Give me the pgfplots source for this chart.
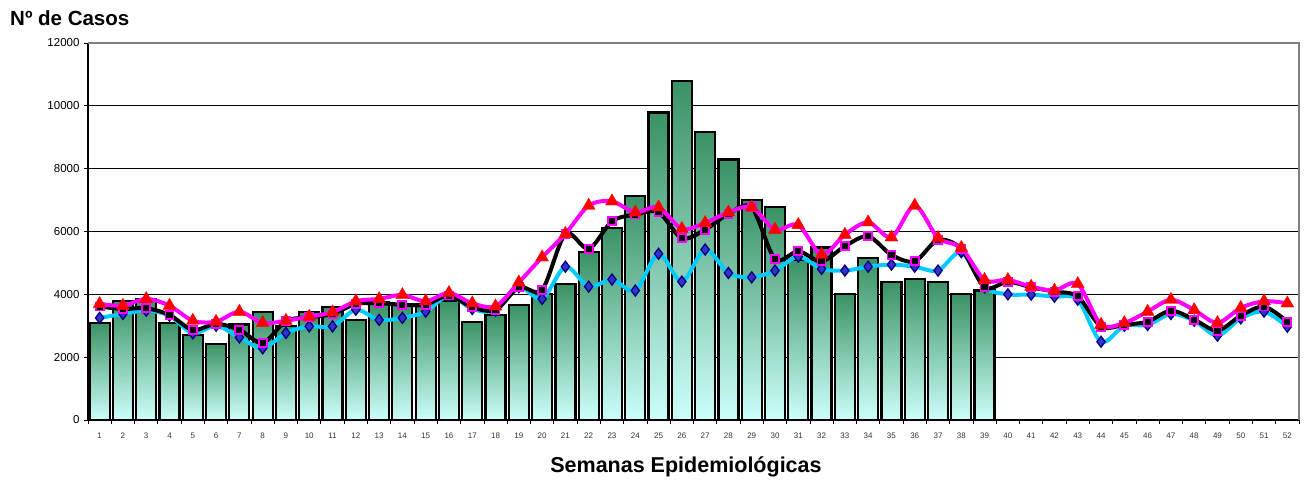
\documentclass[border=0pt]{standalone}
\usepackage{fontspec}
\setmainfont{Liberation Sans}
\usepackage{pgfplots}
\usepackage{pgfplotstable}
\pgfplotsset{compat=1.18}
\definecolor{bartop}{RGB}{58,146,100}
\definecolor{barbot}{RGB}{204,255,250}
\definecolor{cyanl}{RGB}{0,204,255}
\definecolor{diam}{RGB}{51,51,204}
\definecolor{navy}{RGB}{0,0,128}
\definecolor{magl}{RGB}{255,0,255}
\definecolor{redl}{RGB}{255,0,0}
\pgfplotstableread{
x y
1 3100
2 3800
3 3860
4 3100
5 2700
6 2420
7 3040
8 3450
9 3000
10 3450
11 3590
12 3190
13 3760
14 3700
15 3680
16 3780
17 3110
18 3330
19 3650
20 4000
21 4340
22 5350
23 6110
24 7120
25 9790
26 10800
27 9170
28 8290
29 6990
30 6780
31 5100
32 5490
33 4000
34 5150
35 4400
36 4480
37 4400
38 4000
39 4120
}\bars
\pgfplotstableread{
x c k m
1 3250 3610 3695
2 3375 3535 3640
3 3480 3555 3855
4 3320 3345 3640
5 2760 2865 3160
6 3000 3060 3130
7 2630 2875 3450
8 2280 2450 3090
9 2770 3150 3160
10 2980 3270 3290
11 2980 3375 3430
12 3510 3695 3780
13 3185 3715 3855
14 3250 3670 3980
15 3450 3670 3780
16 3960 3960 4045
17 3535 3590 3715
18 3480 3500 3620
19 4225 4225 4380
20 3855 4140 5180
21 4880 5925 5925
22 4245 5445 6825
23 4470 6325 6960
24 4120 6540 6610
25 5290 6610 6770
26 4405 5785 6085
27 5425 6060 6275
28 4680 6560 6610
29 4540 6770 6770
30 4755 5125 6060
31 5200 5370 6210
32 4810 5050 5265
33 4755 5530 5900
34 4880 5850 6295
35 4945 5255 5815
36 4880 5050 6825
37 4755 5735 5795
38 5340 5445 5480
39 4225 4225 4460
40 4000 4400 4460
41 3990 4225 4245
42 3925 4085 4120
43 3830 3935 4330
44 2490 2970 3035
45 3000 3035 3090
46 3025 3130 3450
47 3375 3480 3830
48 3160 3195 3500
49 2685 2845 3090
50 3235 3320 3570
51 3450 3610 3780
52 2970 3130 3715
}\lines
\begin{document}
\begin{tikzpicture}
\useasboundingbox (-88pt,-64pt) rectangle (1221pt,420pt);
\begin{axis}[
  at={(0pt,0pt)}, anchor=south west,
  scale only axis, width=1211pt, height=377pt,
  xmin=0.5, xmax=52.5, ymin=0, ymax=12000,
  axis lines=left, axis line style={-, black, line width=1.6pt},
  xtick={1,...,52},
  minor xtick={0.5,1.5,...,52.5},
  ytick={0,2000,...,12000},
  scaled y ticks=false,
  tick align=outside,
  major tick length=4pt, minor tick length=4pt,
  major x tick style={draw=none},
  minor x tick style={black, line width=0.8pt},
  major y tick style={black, line width=0.8pt},
  ymajorgrids, grid style={black, line width=0.8pt},
  /pgf/number format/assume math mode=true,
  /pgf/number format/set thousands separator={},
  xticklabel style={font=\fontsize{8}{9}\selectfont, text=black!80, yshift=-5pt},
  yticklabel style={font=\fontsize{11.5}{12}\selectfont, xshift=-1pt},
  clip=false,
]
\pgfplotsinvokeforeach{1,...,39}{
\addplot[ybar, bar width=20pt, bar shift=0pt, draw=black, line width=2.2pt,
  top color=bartop, bottom color=barbot,
  x filter/.expression={x==#1 ? x : nan}] table[x=x,y=y] {\bars};
}
\addplot[cyanl, line width=4pt, smooth, tension=0.5, mark=diamond*, mark size=5.5pt,
  mark options={fill=diam, draw=navy, line width=1.3pt}] table[x=x,y=c] {\lines};
\addplot[black, line width=4pt, smooth, tension=0.5, mark=square*, mark size=4pt,
  mark options={fill=black, draw=magl, line width=1.8pt}] table[x=x,y=k] {\lines};
\addplot[magl, line width=4pt, smooth, tension=0.5, mark=triangle*, mark size=7.5pt,
  mark options={fill=redl, draw=redl, line width=0.3pt}] table[x=x,y=m] {\lines};
\draw[gray, line width=1.6pt] (rel axis cs:0,1) -- (rel axis cs:1,1) -- (rel axis cs:1,0);
\end{axis}
\node[anchor=base west, font=\bfseries\fontsize{20.5}{22}\selectfont, inner sep=0pt] at (-78pt,394pt) {Nº de Casos};
\node[anchor=base, font=\bfseries\fontsize{21.5}{24}\selectfont, inner sep=0pt] at (598pt,-53pt) {Semanas Epidemiológicas};
\end{tikzpicture}
\end{document}
